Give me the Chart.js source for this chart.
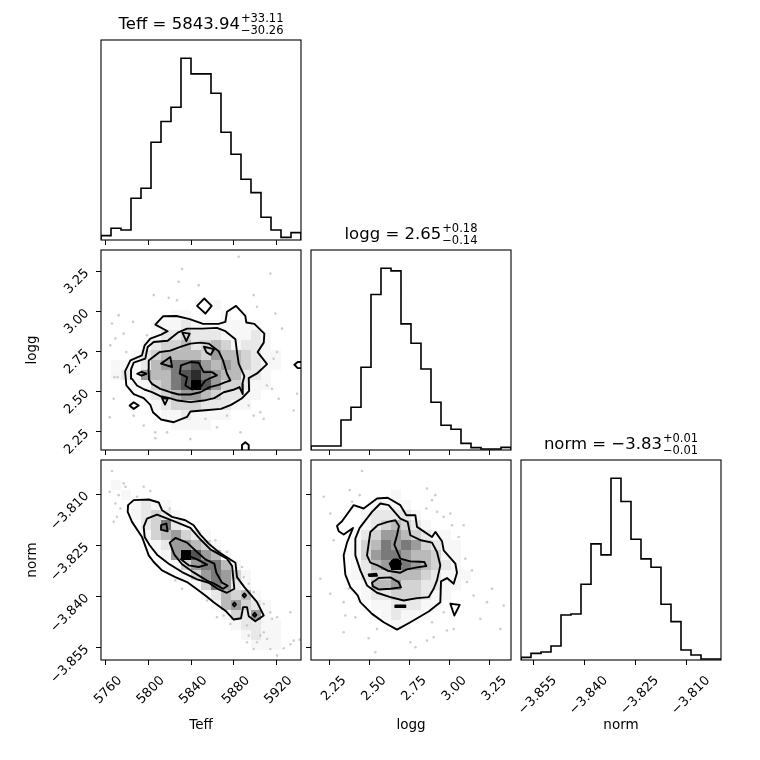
<!DOCTYPE html>
<html>
<head>
<meta charset="utf-8">
<script src="https://cdn.jsdelivr.net/npm/chart.js@4.4.1/dist/chart.umd.min.js"></script>
<style>
  html, body { margin: 0; padding: 0; background: #fff; }
  #fig { position: relative; width: 760px; height: 760px; }
  #fig canvas { position: absolute; left: 0; top: 0; }
</style>
</head>
<body>
<div id="fig"></div>
<script>
/* ─── corner plot: Teff / logg / norm ─────────────────────────────────── */

const TEFF_RANGE = [5755.4, 5943.2];
const LOGG_RANGE = [2.137, 3.383];
const NORM_RANGE = [-3.8587, -3.8000];

const TEFF_TICKS = [5760, 5800, 5840, 5880, 5920];
const TEFF_TICK_LABELS = ['5760', '5800', '5840', '5880', '5920'];
const LOGG_TICKS = [2.25, 2.50, 2.75, 3.00, 3.25];
const LOGG_TICK_LABELS = ['2.25', '2.50', '2.75', '3.00', '3.25'];
const NORM_TICKS = [-3.855, -3.840, -3.825, -3.810];
const NORM_TICK_LABELS = ['\u22123.855', '\u22123.840', '\u22123.825', '\u22123.810'];

// 1D histograms, 20 bins each
const TEFF_COUNTS = [13, 35, 30, 125, 155, 293, 355, 398, 545, 498, 498, 440, 323, 257, 182, 142, 68, 30, 8, 22];
const LOGG_COUNTS = [12, 12, 12, 90, 128, 248, 466, 545, 537, 378, 320, 243, 143, 74, 62, 20, 7, 3, 3, 8];
const NORM_COUNTS = [8, 20, 24, 42, 135, 138, 227, 348, 315, 545, 475, 362, 303, 278, 167, 115, 30, 15, 3, 3];

const TEFF_TITLE = { main: 'Teff = 5843.94', sup: '+33.11', sub: '\u221230.26' };
const LOGG_TITLE = { main: 'logg = 2.65', sup: '+0.18', sub: '\u22120.14' };
const NORM_TITLE = { main: 'norm = \u22123.83', sup: '+0.01', sub: '\u22120.01' };

// 2D histogram shades (0..9), rows from top (high y) to bottom, 20 x 20
const TL_GRID = [
  '00000000000000000000', '00000000000000000000', '00000000000000000000', '00000000000000000000',
  '00000000000000000000', '00000000000100000000', '00000001100010000000', '00000111211111110000',
  '00000122322211121000', '00001233423431221000', '00012344443544321100', '01112456675454321100',
  '01215446786544221000', '00011346797533211000', '00001234554322110000', '00000123332221100000',
  '00000011211110000000', '00000001111000000000', '00000000000000000000', '00000000000000000000'
];
const TN_GRID = [
  '00000000000000000000', '00000000000000000000', '01000000000000000000', '00100000000000000000',
  '00012110000000000000', '00012321000000000000', '00002362100000000000', '00001345321000000000',
  '00000125543100000000', '00000015975410000000', '00000001356641000000', '00000000135653100000',
  '00000000013652100000', '00000000001243410000', '00000000000145321000', '00000000000013251000',
  '00000000000001221100', '00000000000000121100', '00000000000000011100', '00000000000000000000'
];
const LN_GRID = [
  '00000000000000000000', '00000000000000000000', '00000000000000000000', '00000000100000000000',
  '00000011110000000000', '00000122221000000000', '00000123432100000000', '00001235543211000000',
  '00001346565321100000', '00001356654431100000', '00001245965432100000', '00001233444321110000',
  '00000144533221100000', '00000122333211000000', '00000011222110000000', '00000001211100000000',
  '00000000110000000000', '00000000000000000000', '00000000000000000000', '00000000000000000000'
];

// contours, [x, y] in data units; the first one is the outermost level
const TL_CONTOURS = [
  [[5806.4,2.918],[5813.6,2.970],[5826.2,2.972],[5838.7,2.952],[5851.2,2.923],[5865.9,2.923],[5872.2,2.935],
   [5873.7,2.998],[5882.2,3.035],[5890.9,2.972],[5891.9,2.931],[5899.4,2.923],[5908.8,2.862],[5908.2,2.806],
   [5902.5,2.747],[5911.3,2.672],[5901.9,2.614],[5894.1,2.585],[5894.5,2.505],[5887.5,2.458],[5877.5,2.418],
   [5868.1,2.393],[5853.4,2.385],[5839.3,2.377],[5836.2,2.343],[5823.7,2.310],[5811.8,2.327],[5804.2,2.372],
   [5801.7,2.418],[5795.5,2.460],[5786.1,2.485],[5779.2,2.539],[5778.0,2.627],[5783.0,2.695],[5793.9,2.727],
   [5796.4,2.789],[5801.7,2.831],[5811.8,2.856],[5818.0,2.877]],
  [[5786.1,2.681],[5797.0,2.706],[5799.2,2.779],[5804.9,2.810],[5818.0,2.818],[5827.4,2.868],[5836.2,2.893],
   [5850.3,2.893],[5864.3,2.898],[5872.2,2.877],[5881.6,2.827],[5883.1,2.747],[5884.7,2.675],[5890.0,2.597],
   [5888.1,2.549],[5888.5,2.485],[5885.5,2.529],[5880.6,2.514],[5870.6,2.497],[5861.8,2.460],[5851.8,2.445],
   [5839.3,2.435],[5827.4,2.445],[5819.9,2.460],[5811.1,2.472],[5803.3,2.497],[5796.1,2.514],[5789.2,2.539],
   [5784.5,2.581],[5783.6,2.639]],
  [[5800.0,2.640],[5800.2,2.695],[5810.5,2.747],[5820.5,2.756],[5829.9,2.780],[5839.3,2.800],[5848.7,2.806],
   [5856.5,2.800],[5865.9,2.752],[5870.0,2.695],[5873.7,2.612],[5876.9,2.570],[5872.2,2.560],[5865.9,2.543],
   [5857.5,2.529],[5848.7,2.497],[5839.3,2.483],[5828.3,2.483],[5820.5,2.497],[5811.1,2.518],[5803.3,2.549],
   [5800.5,2.575]],
  [[5830.5,2.664],[5839.3,2.685],[5847.1,2.681],[5851.8,2.622],[5859.6,2.622],[5864.3,2.602],[5858.1,2.585],
   [5853.4,2.570],[5848.7,2.529],[5840.9,2.514],[5834.6,2.539],[5836.2,2.591],[5829.3,2.612]],
  [[5789.5,2.612],[5793.5,2.624],[5798.0,2.612],[5793.5,2.600]],
  [[5831.8,2.868],[5838.7,2.862],[5835.5,2.815]],
  [[5811.8,2.675],[5820.5,2.716],[5822.1,2.654]],
  [[5852.0,2.780],[5861.5,2.765],[5858.5,2.730],[5854.5,2.745]],
  [[5845.6,3.035],[5852.4,3.081],[5859.3,3.035],[5853.4,2.987]],
  [[5782.3,2.414],[5786.1,2.435],[5790.8,2.414],[5786.1,2.393]],
  [[5937.0,2.668],[5940.1,2.685],[5944.0,2.685],[5944.0,2.647],[5940.1,2.647]],
  [[5887.8,2.130],[5887.8,2.168],[5890.9,2.185],[5894.1,2.168],[5894.1,2.130]],
  [[5812.7,2.462],[5818.0,2.455],[5815.5,2.420]]
];
const TN_CONTOURS = [
  [[5780.8,-3.81325],[5786.1,-3.81178],[5800.2,-3.81159],[5809.6,-3.81247],[5812.7,-3.81473],[5822.1,-3.81669],
   [5834.6,-3.81767],[5842.4,-3.81914],[5848.7,-3.82189],[5856.5,-3.82454],[5865.9,-3.82700],[5881.6,-3.83014],
   [5883.1,-3.83436],[5890.0,-3.83730],[5901.9,-3.84172],[5908.2,-3.84565],[5900.3,-3.84732],[5894.1,-3.84584],
   [5892.5,-3.84319],[5888.8,-3.84319],[5886.9,-3.84643],[5880.0,-3.84683],[5873.1,-3.84447],[5861.2,-3.84172],
   [5853.4,-3.83976],[5844.9,-3.83779],[5836.2,-3.83583],[5825.2,-3.83436],[5812.7,-3.83240],[5804.9,-3.82994],
   [5800.2,-3.82798],[5793.9,-3.82258],[5784.5,-3.81816],[5780.5,-3.81522]],
  [[5795.5,-3.81963],[5798.6,-3.81718],[5808.0,-3.81600],[5823.7,-3.81797],[5839.3,-3.81993],[5848.7,-3.82327],
   [5858.1,-3.82621],[5873.7,-3.82896],[5878.5,-3.83112],[5880.6,-3.83779],[5873.7,-3.83897],[5865.9,-3.83799],
   [5856.5,-3.83603],[5845.6,-3.83505],[5831.5,-3.83289],[5819.0,-3.83043],[5808.0,-3.82778],[5801.1,-3.82503],
   [5796.4,-3.82258]],
  [[5819.9,-3.82425],[5825.2,-3.82287],[5836.2,-3.82425],[5845.6,-3.82700],[5853.4,-3.82916],[5861.8,-3.83043],
   [5863.7,-3.83308],[5869.0,-3.83600],[5874.4,-3.83690],[5870.0,-3.83780],[5861.2,-3.83620],[5855.0,-3.83540],
   [5842.4,-3.83300],[5831.5,-3.83060],[5824.3,-3.82780]],
  [[5830.5,-3.82916],[5836.2,-3.82798],[5845.6,-3.82916],[5855.0,-3.83073],[5847.1,-3.83141],[5837.7,-3.83092]],
  [[5811.8,-3.81914],[5816.8,-3.81865],[5818.0,-3.82091],[5812.4,-3.82052]],
  [[5879.1,-3.84241],[5880.6,-3.84182],[5882.2,-3.84241],[5880.6,-3.84300]],
  [[5898.1,-3.84545],[5899.7,-3.84486],[5901.3,-3.84545],[5899.7,-3.84604]],
  [[5888.4,-3.83976],[5890.0,-3.83917],[5891.6,-3.83976],[5890.0,-3.84035]]
];
const LN_CONTOURS = [
  [[2.2990,-3.81934],[2.3302,-3.81797],[2.4029,-3.81325],[2.4652,-3.81424],[2.5482,-3.81129],[2.6147,-3.81109],
   [2.6936,-3.81325],[2.7309,-3.81620],[2.7871,-3.81620],[2.7974,-3.81963],[2.8909,-3.82258],[2.9117,-3.82111],
   [2.9532,-3.82386],[2.9636,-3.82651],[3.0363,-3.83043],[3.0466,-3.83308],[3.0259,-3.83632],[2.9843,-3.83465],
   [2.9469,-3.83563],[2.9428,-3.84172],[2.8701,-3.84447],[2.7559,-3.84761],[2.6728,-3.84977],[2.5898,-3.84761],
   [2.5171,-3.84516],[2.4444,-3.84172],[2.4278,-3.83976],[2.3821,-3.83730],[2.3510,-3.83367],[2.3406,-3.82798],
   [2.3613,-3.82425],[2.3987,-3.81993],[2.3406,-3.82189],[2.3094,-3.82091]],
  [[2.4133,-3.82307],[2.4402,-3.81993],[2.5171,-3.81522],[2.5690,-3.81276],[2.6209,-3.81325],[2.6936,-3.81718],
   [2.7392,-3.81816],[2.7559,-3.82209],[2.8223,-3.82356],[2.8909,-3.82425],[2.9220,-3.82700],[2.9428,-3.83092],
   [2.9220,-3.83534],[2.9013,-3.83779],[2.8701,-3.84025],[2.7974,-3.84054],[2.7143,-3.84123],[2.6313,-3.84025],
   [2.5482,-3.83897],[2.4859,-3.83681],[2.4444,-3.83240],[2.4133,-3.82798]],
  [[2.4859,-3.82798],[2.4963,-3.82454],[2.5067,-3.82111],[2.5524,-3.81914],[2.6147,-3.81816],[2.6625,-3.81767],
   [2.6853,-3.81934],[2.6728,-3.82209],[2.6562,-3.82484],[2.6936,-3.82896],[2.7559,-3.82975],[2.8431,-3.82994],
   [2.8556,-3.83112],[2.7974,-3.83151],[2.7351,-3.83210],[2.6936,-3.83308],[2.6147,-3.83249],[2.5524,-3.83092],
   [2.5067,-3.83014]],
  [[2.5171,-3.83603],[2.5586,-3.83465],[2.6313,-3.83446],[2.6832,-3.83583],[2.6977,-3.83740],[2.6313,-3.83779],
   [2.5586,-3.83799],[2.5233,-3.83711]],
  [[2.6271,-3.83043],[2.6520,-3.82916],[2.6770,-3.82916],[2.6977,-3.83043],[2.6832,-3.83190],[2.6417,-3.83190]],
  [[2.4963,-3.83357],[2.5441,-3.83338],[2.5482,-3.83397],[2.5005,-3.83407]],
  [[2.6625,-3.84270],[2.7247,-3.84270],[2.7247,-3.84319],[2.6625,-3.84319]],
  [[3.0051,-3.84221],[3.0633,-3.84251],[3.0300,-3.84565]]
];

// individual samples outside the contours
const TL_DOTS = [
  [5884.7,3.341],[5831.5,3.264],[5914.4,3.237],[5847.1,3.164],[5828.3,3.185],[5804.9,3.102],[5819.0,3.085],
  [5826.8,3.070],[5772.0,2.977],[5785.5,2.935],[5765.7,2.925],[5776.7,2.862],[5768.9,2.831],[5798.6,2.852],
  [5898.8,3.102],[5901.9,3.029],[5919.1,2.987],[5925.4,2.893],[5920.7,2.747],[5917.5,2.706],[5779.2,2.747],
  [5764.2,2.789],[5767.9,2.591],[5771.1,2.591],[5911.3,2.539],[5916.0,2.518],[5939.5,2.487],[5922.3,2.456],
  [5767.3,2.456],[5763.6,2.341],[5898.8,2.351],[5905.0,2.372],[5908.2,2.331],[5894.1,2.414],[5853.4,2.331],
  [5864.3,2.278],[5806.4,2.247],[5806.4,2.210],[5817.4,2.247],[5873.7,2.351],[5786.1,2.351],[5795.5,2.289],
  [5936.3,2.383],[5839.3,2.205],[5886.3,2.247]
];
const TN_DOTS = [
  [5765.7,-3.80324],[5776.7,-3.80687],[5778.3,-3.80786],[5763.6,-3.80933],[5772.0,-3.81031],[5801.7,-3.80913],
  [5789.2,-3.81080],[5768.9,-3.81276],[5773.6,-3.81424],[5770.4,-3.81669],[5767.3,-3.81816],[5819.9,-3.81424],
  [5825.2,-3.83534],[5831.5,-3.83779],[5855.0,-3.84123],[5864.3,-3.84614],[5870.6,-3.84565],[5876.9,-3.84810],
  [5892.5,-3.84859],[5914.4,-3.84467],[5916.0,-3.84663],[5920.7,-3.84614],[5933.2,-3.84467],[5908.2,-3.85055],
  [5901.9,-3.85350],[5905.0,-3.85154],[5911.3,-3.85252],[5898.8,-3.85546],[5914.4,-3.85546],[5926.9,-3.85527],
  [5936.3,-3.85301],[5942.0,-3.85272],[5894.1,-3.85154],[5862.8,-3.82356],[5873.7,-3.82700],[5887.8,-3.83141],
  [5889.4,-3.83436],[5894.1,-3.83632],[5898.8,-3.83878],[5908.2,-3.84221],[5892.5,-3.85350],[5920.7,-3.85743],
  [5933.2,-3.85408],[5795.5,-3.80786]
];
const LN_DOTS = [
  [2.4548,-3.80324],[2.2159,-3.81080],[2.3779,-3.80884],[2.4402,-3.81031],[2.3924,-3.81227],[2.2575,-3.81571],
  [2.2782,-3.82356],[2.1952,-3.83485],[2.2575,-3.83927],[2.3406,-3.84172],[2.3510,-3.84565],[2.4133,-3.84614],
  [2.3406,-3.85055],[2.4963,-3.85232],[2.5482,-3.84957],[2.8597,-3.80835],[2.9117,-3.81031],[2.8909,-3.81178],
  [2.8556,-3.81424],[2.9220,-3.81522],[2.9636,-3.81669],[3.0051,-3.81571],[3.0155,-3.81914],[3.0881,-3.81914],
  [3.0570,-3.82258],[3.0985,-3.82896],[3.1400,-3.83240],[3.2647,-3.83779],[3.3373,-3.84270],[3.2335,-3.84172],
  [3.1504,-3.83976],[3.1089,-3.83583],[2.9843,-3.85006],[3.0259,-3.84957],[2.9013,-3.85203],[2.8597,-3.85301],
  [2.7559,-3.85350],[2.7871,-3.85497],[3.1920,-3.84663],[3.3166,-3.84957],[2.5378,-3.85644],[2.3717,-3.83779],
  [2.8909,-3.84761],[2.9636,-3.84467]
];

/* ── layout ─────────────────────────────────────────────────────────────── */
const W = 760, SIZE = 200;
const COLS = [101, 311, 521];
const ROWS = [40, 250, 460];
const FONT = "'DejaVu Sans', sans-serif";

const fig = document.getElementById('fig');

const toXY = (pts, close) => {
  const out = pts.map(p => ({ x: p[0], y: p[1] }));
  if (close) out.push({ x: pts[0][0], y: pts[0][1] });
  return out;
};

function stepPoints(counts, xr) {
  const n = counts.length, w = (xr[1] - xr[0]) / n;
  const pts = [{ x: xr[0], y: 0 }];
  counts.forEach((c, i) => pts.push({ x: xr[0] + i * w, y: c }));
  pts.push({ x: xr[1], y: counts[n - 1] }, { x: xr[1], y: 0 });
  return pts;
}

const framePlugin = {
  id: 'frame',
  afterDatasetsDraw(chart) {
    const { ctx, chartArea: a } = chart;
    ctx.save();
    ctx.strokeStyle = '#000';
    ctx.lineWidth = 1.1;
    ctx.strokeRect(a.left, a.top, a.width, a.height);
    ctx.restore();
  }
};

function cellsPlugin(grid, xr, yr, afterIndex) {
  return {
    id: 'cells',
    afterDatasetDraw(chart, args) {
      if (args.index !== afterIndex) return;
      const { ctx, chartArea: a, scales: { x, y } } = chart;
      const n = grid.length, dx = (xr[1] - xr[0]) / n, dy = (yr[1] - yr[0]) / n;
      ctx.save();
      ctx.beginPath();
      ctx.rect(a.left, a.top, a.width, a.height);
      ctx.clip();
      grid.forEach((row, i) => {
        [...row].forEach((ch, j) => {
          if (ch === '0') return;
          const t = Math.pow(+ch / 9, 0.8);
          const x0 = Math.round(x.getPixelForValue(xr[0] + j * dx));
          const x1 = Math.round(x.getPixelForValue(xr[0] + (j + 1) * dx));
          const y0 = Math.round(y.getPixelForValue(yr[1] - i * dy));
          const y1 = Math.round(y.getPixelForValue(yr[1] - (i + 1) * dy));
          const g = Math.round(255 * (1 - t));
          ctx.fillStyle = `rgba(${g},${g},${g},${t})`;
          ctx.fillRect(x0, y0, x1 - x0, y1 - y0);
        });
      });
      ctx.restore();
    }
  };
}

function titlePlugin(t) {
  return {
    id: 'cornerTitle',
    afterDraw(chart) {
      const { ctx, chartArea: a } = chart;
      ctx.save();
      ctx.fillStyle = '#000';
      ctx.textAlign = 'left';
      ctx.textBaseline = 'alphabetic';
      const big = `16.5px ${FONT}`, small = `11.5px ${FONT}`;
      ctx.font = big;
      const wm = ctx.measureText(t.main).width;
      ctx.font = small;
      const ws = Math.max(ctx.measureText(t.sup).width, ctx.measureText(t.sub).width);
      const x0 = (a.left + a.right) / 2 - (wm + ws + 1) / 2;
      const base = a.top - 11;
      ctx.font = big;
      ctx.fillText(t.main, x0, base);
      ctx.font = small;
      ctx.fillText(t.sup, x0 + wm + 1, base - 7);
      ctx.fillText(t.sub, x0 + wm + 1, base + 5);
      ctx.restore();
    }
  };
}

function axis(o) {
  const horizontal = o.pos === 'bottom';
  const hasTicks = !!o.ticks;
  return {
    type: 'linear', position: o.pos, min: o.min, max: o.max,
    afterBuildTicks: s => { if (hasTicks) s.ticks = o.ticks.map(v => ({ value: v })); },
    afterFit: s => { if (horizontal) s.height = o.fit; else s.width = o.fit; },
    ticks: {
      display: !!o.labels, autoSkip: false, minRotation: 45, maxRotation: 45,
      padding: horizontal ? 8 : 9, labelOffset: horizontal ? (o.labelOffset || 0) : 0,
      color: '#000', font: { family: FONT, size: 13 },
      callback: (v, i) => (o.labels ? o.labels[i] : '')
    },
    grid: {
      display: hasTicks, drawOnChartArea: false, drawTicks: true, tickLength: 5,
      color: '#000', lineWidth: 1
    },
    border: { display: false },
    title: {
      display: !!o.title, text: o.title || '', color: '#000',
      font: { family: FONT, size: 13.5 },
      padding: horizontal ? { top: 0, bottom: 26 } : { top: 24, bottom: 0 }
    }
  };
}

function makePanel(p) {
  const canvas = document.createElement('canvas');
  canvas.width = W;
  canvas.height = W;
  fig.appendChild(canvas);

  const left = COLS[p.col], top = ROWS[p.row];
  const right = left + SIZE, bottom = top + SIZE;
  const datasets = [];
  const plugins = [framePlugin];
  let yMin, yMax;

  if (p.counts) {
    datasets.push({
      data: stepPoints(p.counts, p.xr), showLine: true, stepped: 'before', fill: false,
      borderColor: '#000', borderWidth: 1.6, pointRadius: 0
    });
    yMin = 0;
    yMax = 1.1 * Math.max(...p.counts);
  } else {
    p.contours.forEach(c => datasets.push({
      data: toXY(c, true), showLine: true, fill: false, order: 0,
      borderColor: '#000', borderWidth: 1.9, borderJoinStyle: 'round', borderCapStyle: 'round',
      pointRadius: 0
    }));
    const fillIndex = datasets.length;
    datasets.push({
      data: toXY(p.contours[0], true), showLine: true, fill: 'shape', order: 1,
      backgroundColor: '#fff', borderWidth: 0, borderColor: 'rgba(0,0,0,0)', pointRadius: 0
    });
    datasets.push({
      data: toXY(p.dots, false), showLine: false, order: 2,
      pointRadius: 1.3, pointBackgroundColor: 'rgba(0,0,0,0.2)', pointBorderWidth: 0
    });
    plugins.push(cellsPlugin(p.grid, p.xr, p.yr, fillIndex));
    yMin = p.yr[0];
    yMax = p.yr[1];
  }
  if (p.title) plugins.push(titlePlugin(p.title));

  new Chart(canvas, {
    type: 'scatter',
    data: { datasets },
    plugins,
    options: {
      responsive: false, animation: false, devicePixelRatio: 1, events: [],
      layout: { padding: { left: 0, top: top, right: W - right, bottom: 0 } },
      plugins: { legend: { display: false }, tooltip: { enabled: false } },
      scales: {
        x: axis({ pos: 'bottom', min: p.xr[0], max: p.xr[1], ticks: p.xticks, labels: p.xlabels,
                  title: p.xtitle, fit: W - bottom, labelOffset: p.xoff }),
        y: axis({ pos: 'left', min: yMin, max: yMax, ticks: p.yticks, labels: p.ylabels,
                  title: p.ytitle, fit: left })
      }
    }
  });
}

const PANELS = [
  { col: 0, row: 0, counts: TEFF_COUNTS, xr: TEFF_RANGE, xticks: TEFF_TICKS, title: TEFF_TITLE },
  { col: 1, row: 1, counts: LOGG_COUNTS, xr: LOGG_RANGE, xticks: LOGG_TICKS, title: LOGG_TITLE },
  { col: 2, row: 2, counts: NORM_COUNTS, xr: NORM_RANGE, xticks: NORM_TICKS, xlabels: NORM_TICK_LABELS,
    xoff: 21, xtitle: 'norm', title: NORM_TITLE },
  { col: 0, row: 1, xr: TEFF_RANGE, yr: LOGG_RANGE, grid: TL_GRID, contours: TL_CONTOURS, dots: TL_DOTS,
    xticks: TEFF_TICKS, yticks: LOGG_TICKS, ylabels: LOGG_TICK_LABELS, ytitle: 'logg' },
  { col: 0, row: 2, xr: TEFF_RANGE, yr: NORM_RANGE, grid: TN_GRID, contours: TN_CONTOURS, dots: TN_DOTS,
    xticks: TEFF_TICKS, xlabels: TEFF_TICK_LABELS, xoff: 14, xtitle: 'Teff',
    yticks: NORM_TICKS, ylabels: NORM_TICK_LABELS, ytitle: 'norm' },
  { col: 1, row: 2, xr: LOGG_RANGE, yr: NORM_RANGE, grid: LN_GRID, contours: LN_CONTOURS, dots: LN_DOTS,
    xticks: LOGG_TICKS, xlabels: LOGG_TICK_LABELS, xoff: 15, xtitle: 'logg', yticks: NORM_TICKS }
];

PANELS.forEach(makePanel);
</script>
</body>
</html>
